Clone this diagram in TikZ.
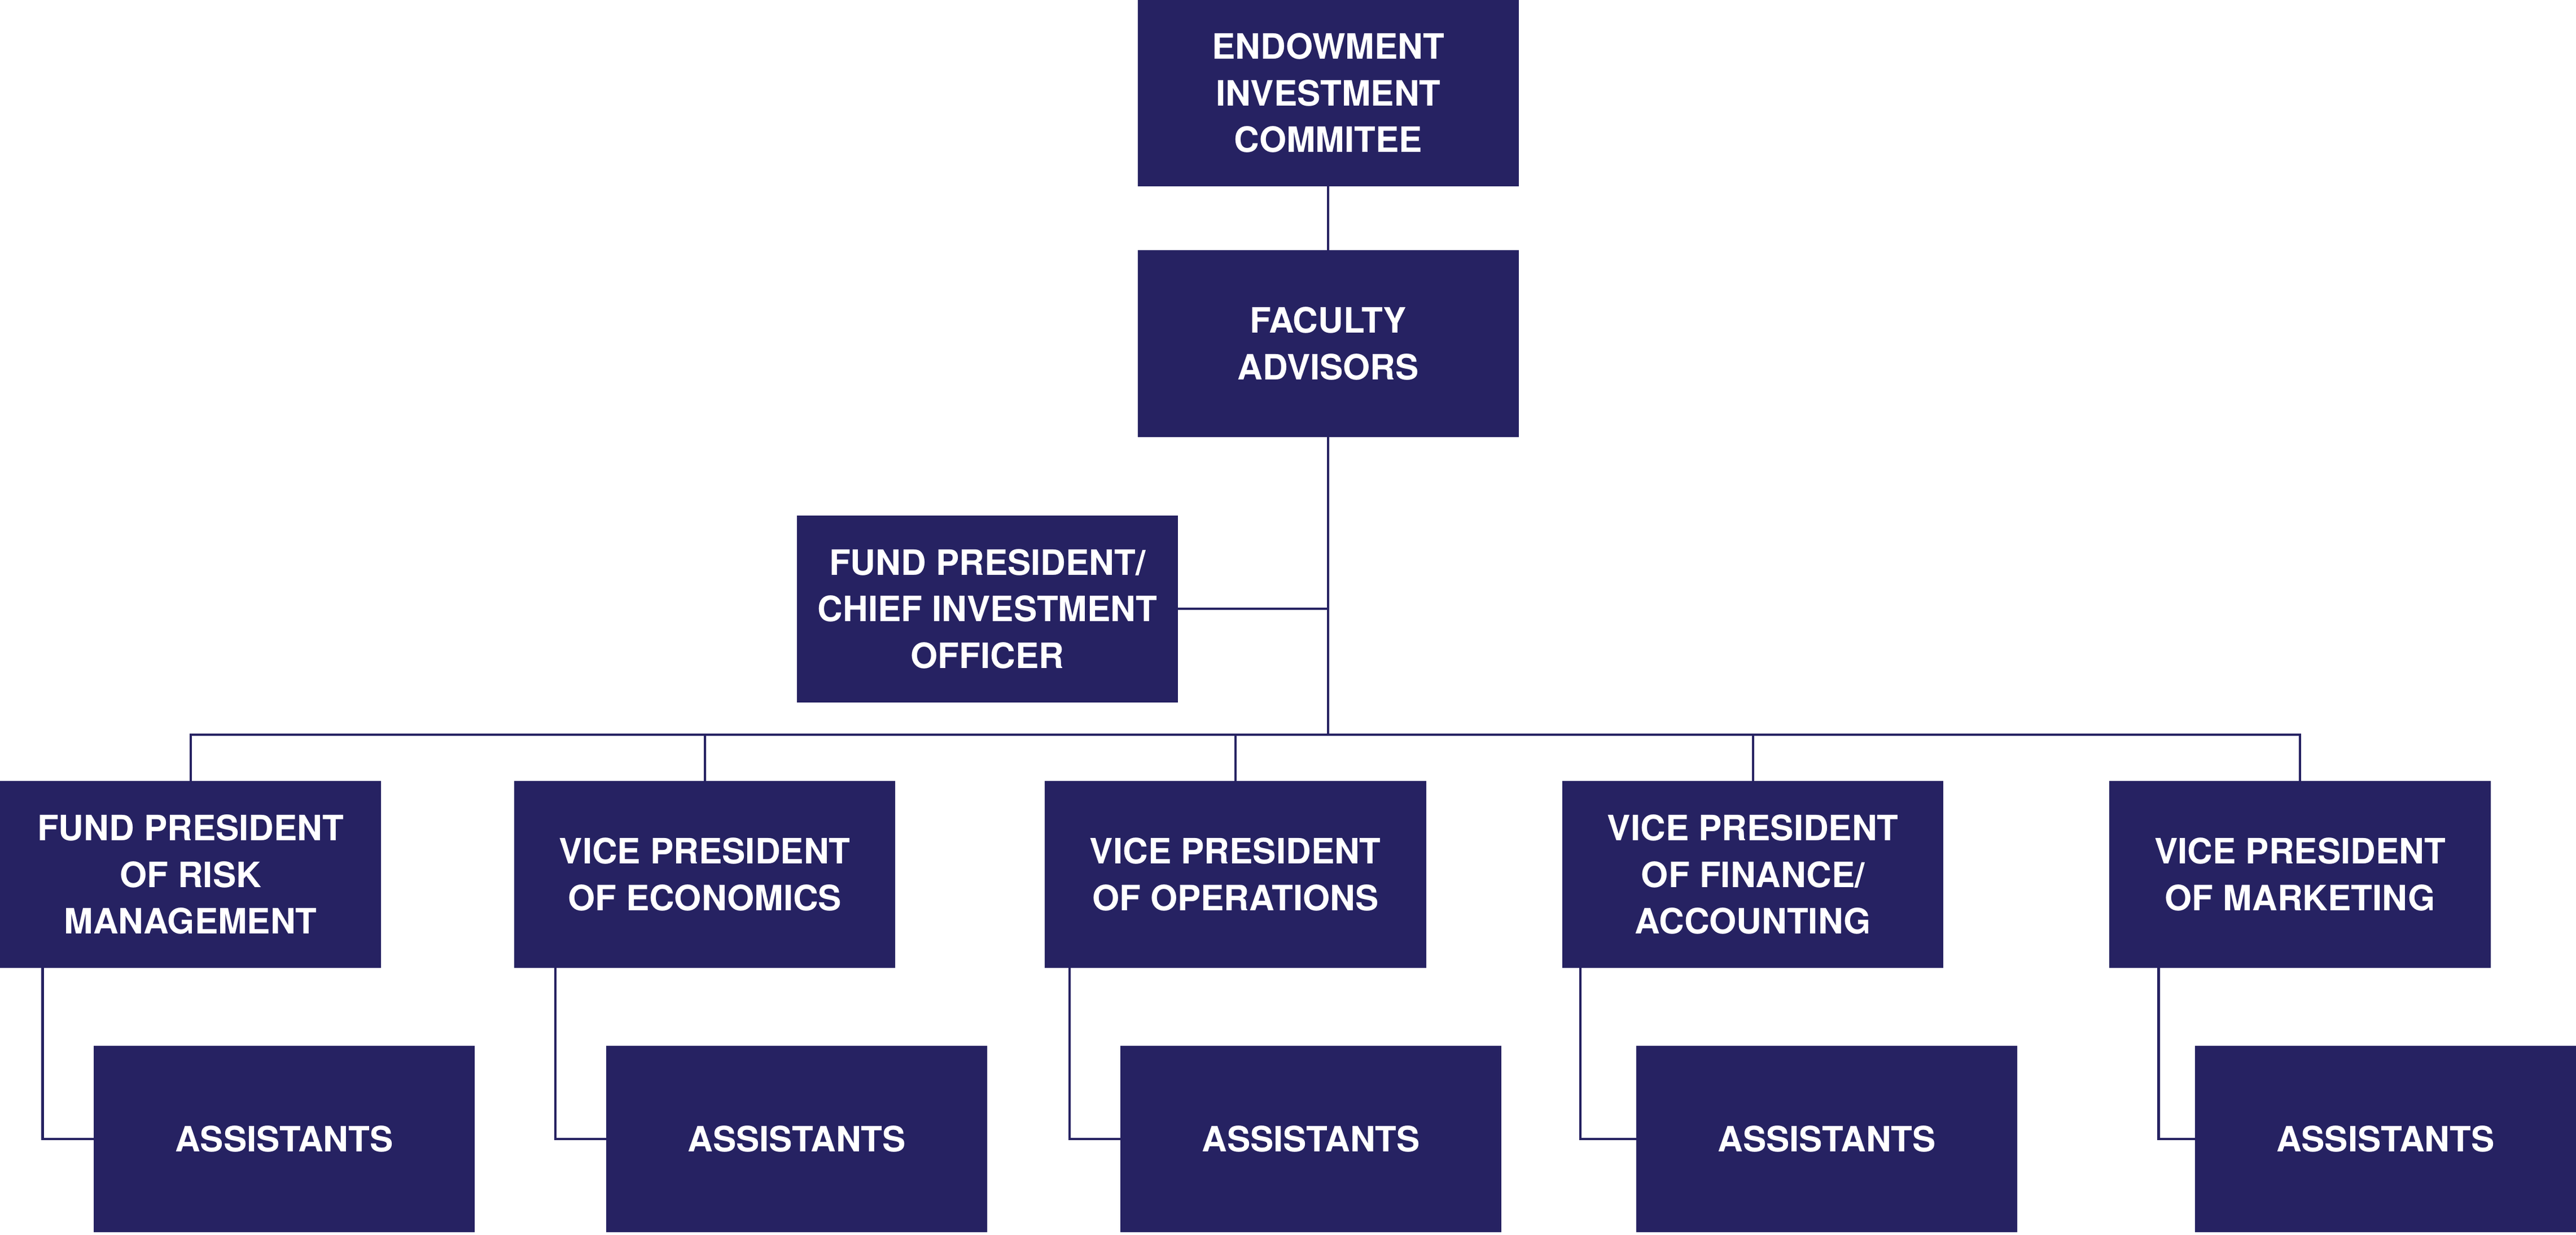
\documentclass[tikz,border=0pt]{standalone}
\usepackage{fontspec}
\setmainfont{TeX Gyre Heros}
\definecolor{navy}{RGB}{38,34,98}
\begin{document}
\begin{tikzpicture}[x=0.1cm,y=-0.1cm,
  box/.style={fill=navy,draw=none,text=white,font=\fontsize{60.5}{81}\selectfont\bfseries,
    align=center,minimum width=23.2cm,minimum height=11.35cm,inner sep=0pt},
  link/.style={draw=navy,line width=0.14cm}]
\useasboundingbox (0,0) rectangle (1568,751.3);
\node[box] (endow) at (808.5,56.5) {ENDOWMENT\\INVESTMENT\\COMMITEE};
\node[box] (fac) at (808.5,209) {FACULTY\\ADVISORS};
\node[box] (cio) at (601,370.5) {FUND PRESIDENT/\\CHIEF INVESTMENT\\OFFICER};
\node[box] (vp1) at (116,532) {FUND PRESIDENT\\OF RISK\\MANAGEMENT};
\node[box] (vp2) at (429,532) {VICE PRESIDENT\\OF ECONOMICS};
\node[box] (vp3) at (752,532) {VICE PRESIDENT\\OF OPERATIONS};
\node[box] (vp4) at (1067,532) {VICE PRESIDENT\\OF FINANCE/\\ACCOUNTING};
\node[box] (vp5) at (1400,532) {VICE PRESIDENT\\OF MARKETING};
\node[box] (as1) at (173,693) {ASSISTANTS};
\node[box] (as2) at (485,693) {ASSISTANTS};
\node[box] (as3) at (798,693) {ASSISTANTS};
\node[box] (as4) at (1112,693) {ASSISTANTS};
\node[box] (as5) at (1452,693) {ASSISTANTS};
\coordinate (hub) at (fac.south |- 0,447);
\coordinate (busL) at (vp1.north |- hub);
\coordinate (busR) at (vp5.north |- hub);
\draw[link] (endow.south) -- (fac.north);
\draw[link] (fac.south) -- (hub);
\draw[link] (cio.east) -- (cio.east -| fac.south);
\draw[link,line cap=rect] (busL) -- (busR);
\foreach \v in {vp1,vp2,vp3,vp4,vp5}
  \draw[link] (\v.north |- hub) -- (\v.north);
\draw[link] ([xshift=2.6cm]vp1.south west) |- (as1.west);
\draw[link] ([xshift=2.5cm]vp2.south west) |- (as2.west);
\draw[link] ([xshift=1.5cm]vp3.south west) |- (as3.west);
\draw[link] ([xshift=1.1cm]vp4.south west) |- (as4.west);
\draw[link] ([xshift=3.0cm]vp5.south west) |- (as5.west);
\end{tikzpicture}
\end{document}
